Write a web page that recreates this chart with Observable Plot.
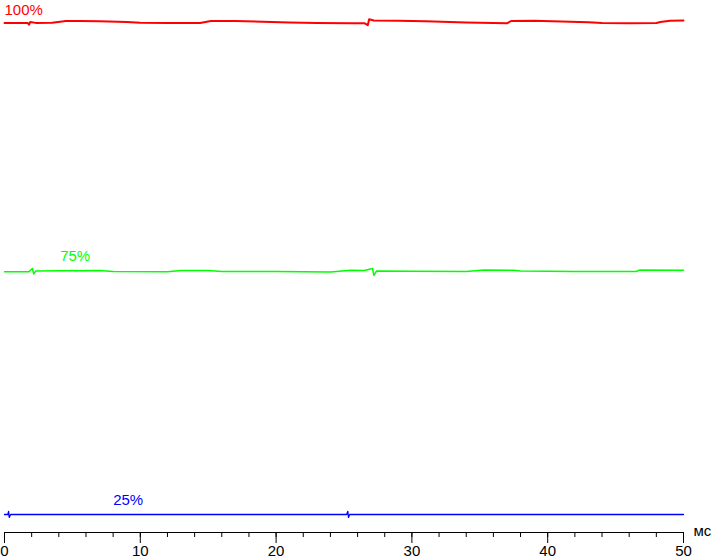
<!DOCTYPE html>
<html><head><meta charset="utf-8">
<script src="https://cdn.jsdelivr.net/npm/d3@7"></script>
<script src="https://cdn.jsdelivr.net/npm/@observablehq/plot@0.6"></script>
<style>body{margin:0;background:#fff;} #chart svg{display:block;}</style>
</head><body><div id="chart"></div>
<script>
// Time, ms
const redX   = [0, 1.2, 1.7, 1.8, 1.9, 2.3, 3.5, 4.1, 4.5, 5.5, 7, 9, 10, 12, 14.4, 15.2, 17, 19, 21, 23, 25.5, 26.5, 26.75, 26.85, 27.2, 29, 31, 34, 37, 37.3, 39, 41, 43, 44, 46, 48, 48.3, 49, 50];
const redV   = [99.7, 99.7, 99.7, 99.35, 99.9, 99.72, 99.75, 99.95, 100.1, 100.12, 100.05, 99.9, 99.75, 99.7, 99.68, 100.1, 100.1, 99.95, 99.8, 99.72, 99.62, 99.65, 99.25, 100.45, 100.2, 100.15, 100.05, 99.8, 99.62, 100.1, 100.15, 100.0, 99.85, 99.68, 99.66, 99.68, 99.9, 100.15, 100.2];

const greenX = [0, 1.8, 2.05, 2.15, 2.3, 4, 7, 8, 12, 13, 15, 16, 20, 24, 25.5, 26.5, 27.1, 27.2, 27.4, 30, 34, 35.3, 37.5, 38, 42, 46.5, 46.8, 50];
const greenV = [49.25, 49.25, 49.9, 48.8, 49.4, 49.45, 49.5, 49.3, 49.25, 49.5, 49.5, 49.3, 49.28, 49.2, 49.55, 49.5, 49.9, 48.5, 49.4, 49.35, 49.3, 49.6, 49.55, 49.4, 49.3, 49.3, 49.6, 49.55];

const blueX  = [0, 0.25, 0.3, 0.35, 0.45, 25.2, 25.28, 25.33, 25.42, 50];
const blueV  = [0, 0, 0.65, -0.6, 0, 0, 0.65, -0.6, 0, 0];

const seriesNames  = ["100%", "75%", "25%"];
const seriesColors = ["#ff0000", "#00ff00", "#0000ff"];
const labelX       = [0, 4.1, 8.0];
const labelLevel   = [99.35, 49.4, 0];

const majorTicks = [0, 10, 20, 30, 40, 50];
const minorTicks = d3.range(0, 51, 2);
const unitLabel  = "мс";

const toRows = (xs, vs, name) => xs.map((x, i) => ({x, v: vs[i], name}));
const red = toRows(redX, redV, seriesNames[0]);
const green = toRows(greenX, greenV, seriesNames[1]);
const blue = toRows(blueX, blueV, seriesNames[2]);
const labels = seriesNames.map((t, i) => ({t, x: labelX[i], v: labelLevel[i], c: seriesColors[i]}));

const chart = Plot.plot({
  width: 711, height: 560,
  marginLeft: 4, marginRight: 28, marginTop: 0, marginBottom: 28,
  style: {fontFamily: "'Liberation Sans', Arial, sans-serif", background: "#fff", color: "#000"},
  x: {domain: [0, 50]},
  y: {domain: [0, 100], range: [514, 21], axis: null},
  marks: [
    Plot.frame({anchor: "bottom", stroke: "#000"}),
    Plot.axisX(minorTicks, {tickSize: 5, tickFormat: () => "", label: null}),
    Plot.axisX(majorTicks, {tickSize: 11, tickPadding: 2, fontSize: 15, label: null}),
    Plot.text([unitLabel], {frameAnchor: "bottom-right", dx: 10, dy: -1, textAnchor: "start", lineAnchor: "middle", fontSize: 15, fill: "#000"}),
    Plot.line(red, {x: "x", y: "v", stroke: seriesColors[0], strokeWidth: 2}),
    Plot.line(green, {x: "x", y: "v", stroke: seriesColors[1], strokeWidth: 1.5}),
    Plot.line(blue, {x: "x", y: "v", stroke: seriesColors[2], strokeWidth: 1.3}),
    Plot.text(labels, {x: "x", y: "v", text: "t", fill: "c", textAnchor: "start", lineAnchor: "bottom", dy: -10, fontSize: 15})
  ]
});
document.getElementById("chart").appendChild(chart);
</script>
</body></html>
